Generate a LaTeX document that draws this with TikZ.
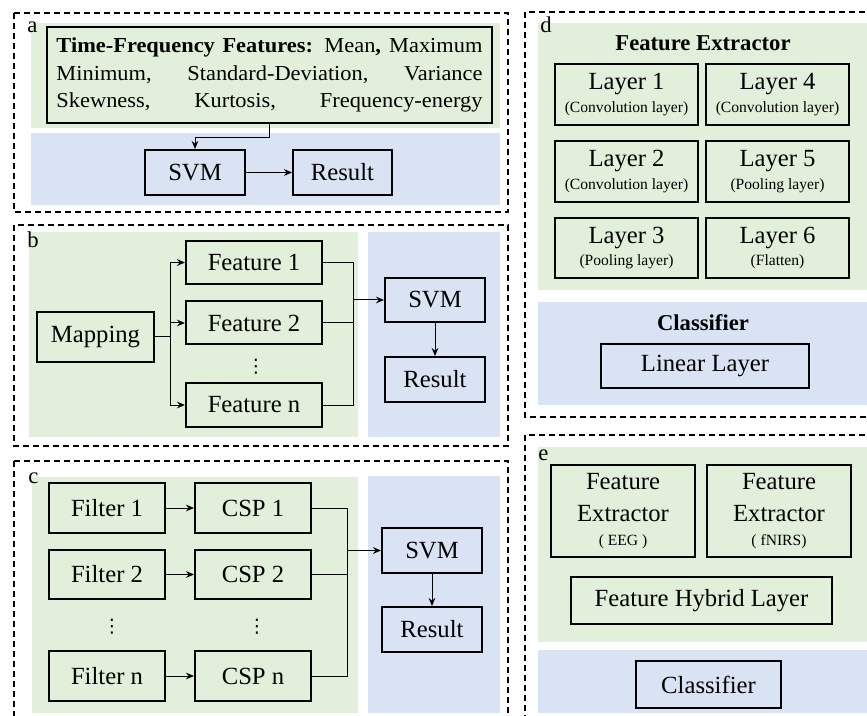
\documentclass[tikz,border=0pt]{standalone}
\usepackage{fontspec}
\usepackage{graphicx}
\setmainfont{Liberation Serif}
\newfontfamily\dotsfont{DejaVu Sans}
\usetikzlibrary{arrows.meta}
\definecolor{bandgreen}{RGB}{226,239,218}
\definecolor{bandblue}{RGB}{218,227,243}
\newcommand\smallnote{\fontsize{11.7}{13}\selectfont}
\newcommand\wideline[1]{\scalebox{1.05}[1]{\makebox[304.3pt][s]{#1}}}

\begin{document}
\begin{tikzpicture}[x=0.75pt,y=0.75pt,yscale=-1,xscale=1,
  panel/.style={draw, line width=1.5pt, dash pattern=on 4.5pt off 3pt},
  greenband/.style={fill=bandgreen},
  blueband/.style={fill=bandblue},
  box/.style={draw, line width=1.5pt, inner sep=0pt, align=center, font=\fontsize{18.5}{22}\selectfont},
  head/.style={inner sep=0pt, font=\fontsize{17}{20}\selectfont\bfseries},
  tag/.style={anchor=base west, inner sep=0pt, font=\fontsize{17}{20}\selectfont},
  dotsnode/.style={inner sep=0pt, font=\fontsize{14}{15}\dotsfont},
  wire/.style={line width=0.75pt},
  arr/.style={line width=0.75pt, -{Stealth[length=6pt,width=5pt,inset=2pt]}}]
\useasboundingbox (0,0) rectangle (867,716);

%Panel a
\fill[greenband] (31,23) rectangle (500,128);
\fill[blueband] (31,133) rectangle (500,205);
\draw[panel] (14,13) rectangle (508,212);
\node[tag] (tagA) at (27,33) {a};
% Text Node
\node[box, minimum width=333.75pt, minimum height=72pt, align=left,
  font=\fontsize{16}{20.6}\selectfont] (feats) at (269.5,75)
  {\wideline{\textbf{Time-Frequency Features:} Mean\textbf{,} Maximum}\\
   \wideline{Minimum, Standard-Deviation, Variance}\\
   \wideline{Skewness, Kurtosis, Frequency-energy}};
\node[box, minimum width=75pt, minimum height=33.75pt] (svmA) at (195,172.5) {SVM};
\node[box, minimum width=74.25pt, minimum height=33.75pt] (resultA) at (342.5,172.5) {Result};
\draw[arr] (feats.south) -- ++(0,14) -| (svmA.north);
\draw[arr] (svmA) -- (resultA);

%Panel b
\fill[greenband] (29,232) rectangle (358,437);
\fill[blueband] (368,232) rectangle (500,437);
\draw[panel] (14,225) rectangle (508,446);
\node[tag] (tagB) at (27,248) {b};
\node[box, minimum width=87.75pt, minimum height=37.5pt] (mapping) at (95.5,337) {Mapping};
\node[box, minimum width=102pt, minimum height=32.25pt] (feat1) at (254,262.5) {Feature 1};
\node[box, minimum width=102pt, minimum height=32.25pt] (feat2) at (254,323) {Feature 2};
\node[dotsnode] (dotsB) at (256,367) {⋮};
\node[box, minimum width=102pt, minimum height=32.25pt] (featn) at (254,405) {Feature n};
\node[box, minimum width=75pt, minimum height=33pt] (svmB) at (435,300) {SVM};
\node[box, minimum width=75pt, minimum height=33.75pt] (resultB) at (435,379.5) {Result};
\coordinate (splitB) at (170,337);
\coordinate (joinB) at (353,300);
\draw[wire] (mapping) -- (splitB);
\draw[arr] (splitB) |- (feat1);
\draw[arr] (splitB) |- (feat2);
\draw[arr] (splitB) |- (featn);
\draw[wire] (feat1) -| (joinB);
\draw[wire] (feat2) -| (joinB);
\draw[wire] (featn) -| (joinB);
\draw[arr] (joinB) -- (svmB);
\draw[arr] (svmB) -- (resultB);

%Panel c
\fill[greenband] (32,477) rectangle (358,713);
\fill[blueband] (368,476) rectangle (500,713);
\draw[panel] (14,461) rectangle (508,760);
\node[tag] (tagC) at (28,483) {c};
\node[box, minimum width=87pt, minimum height=37.5pt] (filter1) at (107,508) {Filter 1};
\node[box, minimum width=87pt, minimum height=37.5pt] (csp1) at (253,508) {CSP 1};
\node[box, minimum width=87pt, minimum height=36.75pt] (filter2) at (107,574.5) {Filter 2};
\node[box, minimum width=87pt, minimum height=36.75pt] (csp2) at (253,574.5) {CSP 2};
\node[dotsnode] (dotsF) at (112,627) {⋮};
\node[dotsnode] (dotsC) at (257,627) {⋮};
\node[box, minimum width=87pt, minimum height=37.5pt] (filtern) at (107,676) {Filter n};
\node[box, minimum width=87pt, minimum height=37.5pt] (cspn) at (253,676) {CSP n};
\node[box, minimum width=75pt, minimum height=33.75pt] (svmC) at (432,550.5) {SVM};
\node[box, minimum width=75pt, minimum height=33.75pt] (resultC) at (432,629.5) {Result};
\coordinate (joinC) at (347,550.5);
\draw[arr] (filter1) -- (csp1);
\draw[arr] (filter2) -- (csp2);
\draw[arr] (filtern) -- (cspn);
\draw[wire] (csp1) -| (joinC);
\draw[wire] (csp2) -| (joinC);
\draw[wire] (cspn) -| (joinC);
\draw[arr] (joinC) -- (svmC);
\draw[arr] (svmC) -- (resultC);

%Panel d
\fill[greenband] (538,23) rectangle (880,290);
\fill[blueband] (538,302) rectangle (880,405);
\draw[panel] (525,12) rectangle (880,417);
\node[tag] (tagD) at (540,33) {d};
\node[head] (extractHead) at (703,43) {Feature Extractor};
\node[box, minimum width=107.25pt, minimum height=45.75pt] (layer1) at (626.5,94.5) {Layer 1\\[-5pt]{\smallnote (Convolution layer)}};
\node[box, minimum width=107.25pt, minimum height=45.75pt] (layer2) at (626.5,171.5) {Layer 2\\[-5pt]{\smallnote (Convolution layer)}};
\node[box, minimum width=107.25pt, minimum height=45pt] (layer3) at (626.5,248) {Layer 3\\[-5pt]{\smallnote (Pooling layer)}};
\node[box, minimum width=107.25pt, minimum height=45.75pt] (layer4) at (777.5,94.5) {Layer 4\\[-5pt]{\smallnote (Convolution layer)}};
\node[box, minimum width=107.25pt, minimum height=45.75pt] (layer5) at (777.5,171.5) {Layer 5\\[-5pt]{\smallnote (Pooling layer)}};
\node[box, minimum width=107.25pt, minimum height=45pt] (layer6) at (777.5,248) {Layer 6\\[-5pt]{\smallnote (Flatten)}};
\node[head] (classHead) at (703,323) {Classifier};
\node[box, minimum width=156pt, minimum height=33pt] (linear) at (705,366) {Linear Layer};

%Panel e
\fill[greenband] (538,447) rectangle (880,642);
\fill[blueband] (538,650) rectangle (880,713);
\draw[panel] (525,435) rectangle (880,760);
\node[tag] (tagE) at (538,460) {e};
\node[box, minimum width=108pt, minimum height=69pt] (extEEG) at (623,511) {Feature\\[2pt]Extractor\\[-4pt]{\smallnote ( EEG )}};
\node[box, minimum width=108pt, minimum height=69pt] (extNIRS) at (779,511) {Feature\\[2pt]Extractor\\[-4pt]{\smallnote ( fNIRS)}};
\node[box, minimum width=195.75pt, minimum height=35.25pt] (hybrid) at (701.5,600.5) {Feature Hybrid Layer};
\node[box, minimum width=108.75pt, minimum height=35.25pt] (classifier) at (708.5,684.5) {Classifier};

\end{tikzpicture}
\end{document}
